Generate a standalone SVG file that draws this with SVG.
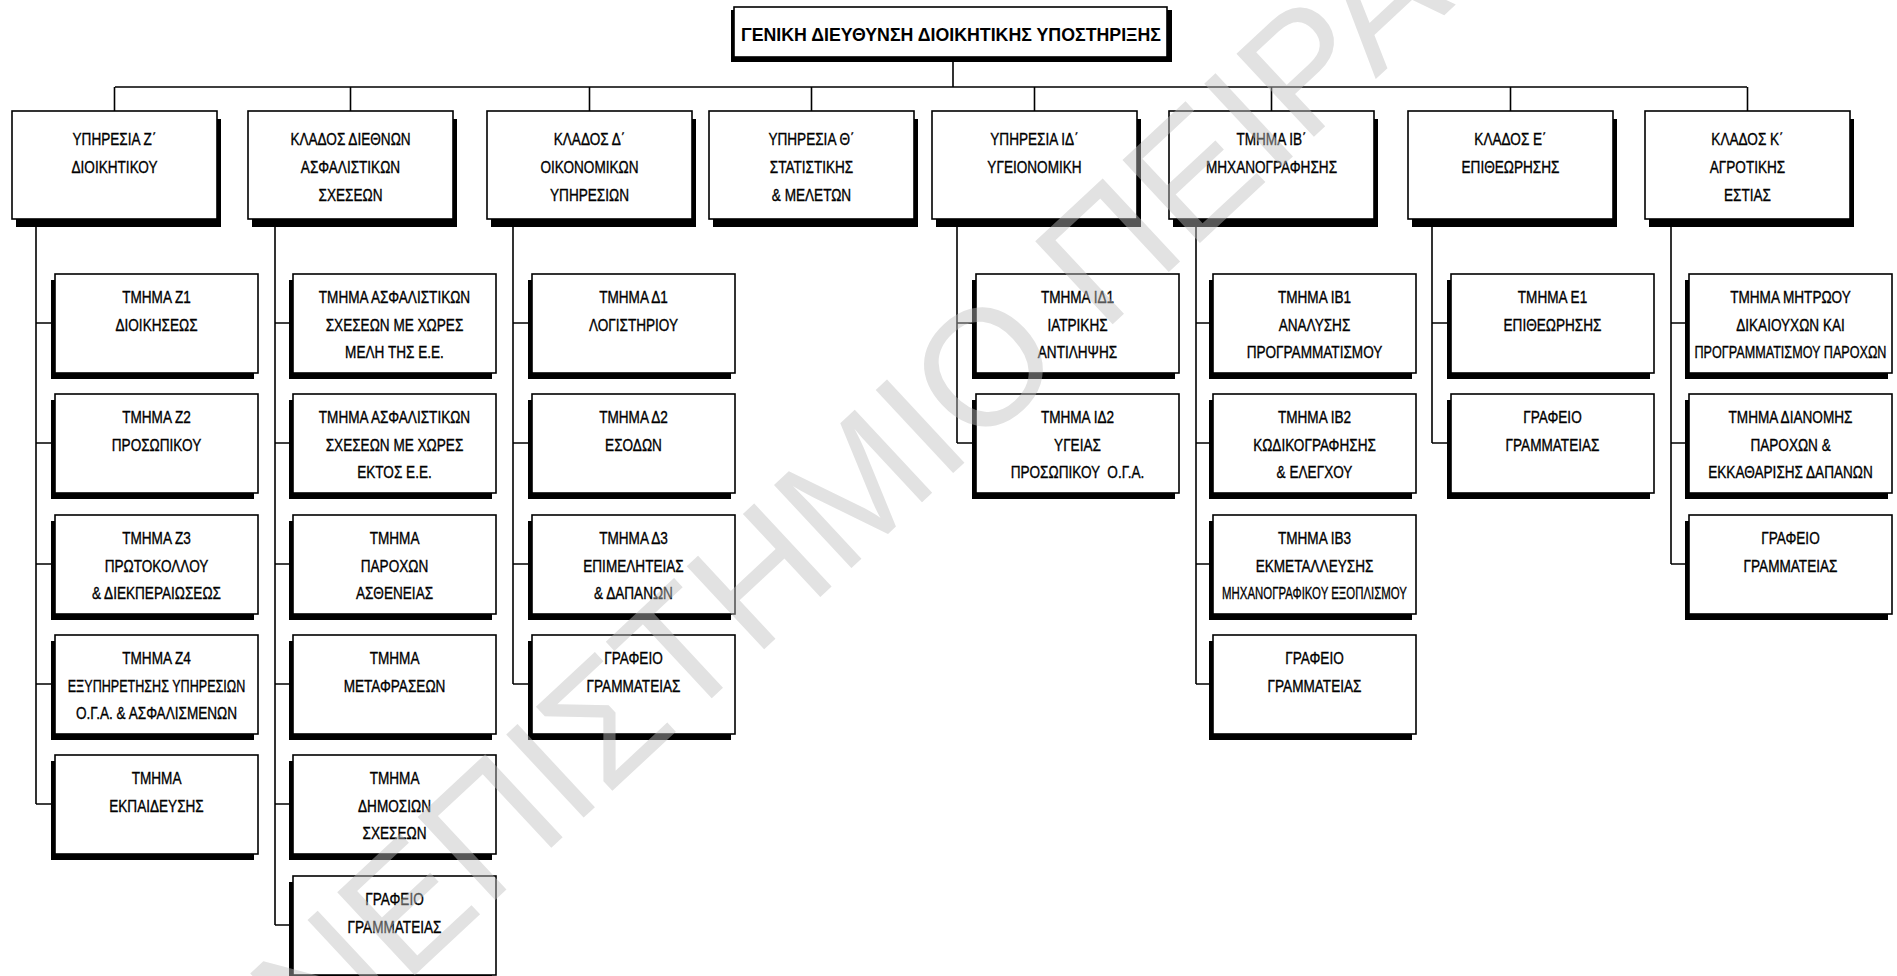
<svg xmlns="http://www.w3.org/2000/svg" width="1897" height="976" viewBox="0 0 1897 976">
<style>
.bx{fill:#fff;stroke:#000;stroke-width:1.6}
.sh{fill:#000}
.ln{stroke:#000;stroke-width:1.6;fill:none}
.t{font-family:"Liberation Sans",Arial,sans-serif;font-size:17px;fill:#000;stroke:#000;stroke-width:0.35;text-anchor:middle;transform-box:fill-box;transform-origin:center;transform:scaleX(0.8)}
.tt{font-family:"Liberation Sans",Arial,sans-serif;font-size:19px;font-weight:bold;fill:#000;text-anchor:middle}
.wm{font-family:"Liberation Sans",Arial,sans-serif;font-size:165px;fill:#bfbfbf;opacity:0.45}
</style>
<rect width="1897" height="976" fill="#fff"/>
<g id="connectors">
<path class="ln" d="M953 57V87M115 87H1747M114.5 87V111M350.5 87V111M589.5 87V111M811.5 87V111M1034.5 87V111M1271.5 87V111M1510.5 87V111M1747.5 87V111"/>
<path class="ln" d="M36 219V804M36 323H55M36 443H55M36 564H55M36 684H55M36 804H55"/>
<path class="ln" d="M275 219V925M275 323H293M275 443H293M275 564H293M275 684H293M275 804H293M275 925H293"/>
<path class="ln" d="M513 219V684M513 323H532M513 443H532M513 564H532M513 684H532"/>
<path class="ln" d="M957 219V443M957 323H976M957 443H976"/>
<path class="ln" d="M1196 219V684M1196 323H1213M1196 443H1213M1196 564H1213M1196 684H1213"/>
<path class="ln" d="M1432 219V443M1432 323H1451M1432 443H1451"/>
<path class="ln" d="M1671 219V564M1671 323H1689M1671 443H1689M1671 564H1689"/>
</g>
<g id="title">
<rect class="sh" x="731" y="10" width="441" height="52"/>
<rect class="bx" x="734" y="7" width="433" height="50"/>
<text class="tt" x="951" y="41" textLength="420" lengthAdjust="spacingAndGlyphs">ΓΕΝΙΚΗ ΔΙΕΥΘΥΝΣΗ ΔΙΟΙΚΗΤΙΚΗΣ ΥΠΟΣΤΗΡΙΞΗΣ</text>
</g>
<g id="n1"><rect class="sh" x="16" y="119" width="205" height="108"/><rect class="bx" x="12" y="111" width="205" height="108"/><text class="t" x="114.5" y="145">ΥΠΗΡΕΣΙΑ Ζ΄</text><text class="t" x="114.5" y="173">ΔΙΟΙΚΗΤΙΚΟΥ</text></g>
<g id="n2"><rect class="sh" x="252" y="119" width="205" height="108"/><rect class="bx" x="248" y="111" width="205" height="108"/><text class="t" x="350.5" y="145">ΚΛΑΔΟΣ ΔΙΕΘΝΩΝ</text><text class="t" x="350.5" y="173">ΑΣΦΑΛΙΣΤΙΚΩΝ</text><text class="t" x="350.5" y="201">ΣΧΕΣΕΩΝ</text></g>
<g id="n3"><rect class="sh" x="491" y="119" width="205" height="108"/><rect class="bx" x="487" y="111" width="205" height="108"/><text class="t" x="589.5" y="145">ΚΛΑΔΟΣ Δ΄</text><text class="t" x="589.5" y="173">ΟΙΚΟΝΟΜΙΚΩΝ</text><text class="t" x="589.5" y="201">ΥΠΗΡΕΣΙΩΝ</text></g>
<g id="n4"><rect class="sh" x="713" y="119" width="205" height="108"/><rect class="bx" x="709" y="111" width="205" height="108"/><text class="t" x="811.5" y="145">ΥΠΗΡΕΣΙΑ Θ΄</text><text class="t" x="811.5" y="173">ΣΤΑΤΙΣΤΙΚΗΣ</text><text class="t" x="811.5" y="201">&amp; ΜΕΛΕΤΩΝ</text></g>
<g id="n5"><rect class="sh" x="936" y="119" width="205" height="108"/><rect class="bx" x="932" y="111" width="205" height="108"/><text class="t" x="1034.5" y="145">ΥΠΗΡΕΣΙΑ ΙΔ΄</text><text class="t" x="1034.5" y="173">ΥΓΕΙΟΝΟΜΙΚΗ</text></g>
<g id="n6"><rect class="sh" x="1173" y="119" width="205" height="108"/><rect class="bx" x="1169" y="111" width="205" height="108"/><text class="t" x="1271.5" y="145">ΤΜΗΜΑ ΙΒ΄</text><text class="t" x="1271.5" y="173">ΜΗΧΑΝΟΓΡΑΦΗΣΗΣ</text></g>
<g id="n7"><rect class="sh" x="1412" y="119" width="205" height="108"/><rect class="bx" x="1408" y="111" width="205" height="108"/><text class="t" x="1510.5" y="145">ΚΛΑΔΟΣ Ε΄</text><text class="t" x="1510.5" y="173">ΕΠΙΘΕΩΡΗΣΗΣ</text></g>
<g id="n8"><rect class="sh" x="1649" y="119" width="205" height="108"/><rect class="bx" x="1645" y="111" width="205" height="108"/><text class="t" x="1747.5" y="145">ΚΛΑΔΟΣ Κ΄</text><text class="t" x="1747.5" y="173">ΑΓΡΟΤΙΚΗΣ</text><text class="t" x="1747.5" y="201">ΕΣΤΙΑΣ</text></g>

<g id="z1"><rect class="sh" x="51" y="280" width="203" height="99"/><rect class="bx" x="55" y="274" width="203" height="99"/><text class="t" x="156.5" y="303">ΤΜΗΜΑ Ζ1</text><text class="t" x="156.5" y="331">ΔΙΟΙΚΗΣΕΩΣ</text></g>
<g id="z2"><rect class="sh" x="51" y="400" width="203" height="99"/><rect class="bx" x="55" y="394" width="203" height="99"/><text class="t" x="156.5" y="423">ΤΜΗΜΑ Ζ2</text><text class="t" x="156.5" y="451">ΠΡΟΣΩΠΙΚΟΥ</text></g>
<g id="z3"><rect class="sh" x="51" y="521" width="203" height="99"/><rect class="bx" x="55" y="515" width="203" height="99"/><text class="t" x="156.5" y="544">ΤΜΗΜΑ Ζ3</text><text class="t" x="156.5" y="572">ΠΡΩΤΟΚΟΛΛΟΥ</text><text class="t" x="156.5" y="599">&amp; ΔΙΕΚΠΕΡΑΙΩΣΕΩΣ</text></g>
<g id="z4"><rect class="sh" x="51" y="641" width="203" height="99"/><rect class="bx" x="55" y="635" width="203" height="99"/><text class="t" x="156.5" y="664">ΤΜΗΜΑ Ζ4</text><text class="t" x="156.5" y="692" textLength="222" lengthAdjust="spacingAndGlyphs">ΕΞΥΠΗΡΕΤΗΣΗΣ ΥΠΗΡΕΣΙΩΝ</text><text class="t" x="156.5" y="719">Ο.Γ.Α. &amp; ΑΣΦΑΛΙΣΜΕΝΩΝ</text></g>
<g id="z5"><rect class="sh" x="51" y="761" width="203" height="99"/><rect class="bx" x="55" y="755" width="203" height="99"/><text class="t" x="156.5" y="784">ΤΜΗΜΑ</text><text class="t" x="156.5" y="812">ΕΚΠΑΙΔΕΥΣΗΣ</text></g>

<g id="k1"><rect class="sh" x="289" y="280" width="203" height="99"/><rect class="bx" x="293" y="274" width="203" height="99"/><text class="t" x="394.5" y="303">ΤΜΗΜΑ ΑΣΦΑΛΙΣΤΙΚΩΝ</text><text class="t" x="394.5" y="331">ΣΧΕΣΕΩΝ ΜΕ ΧΩΡΕΣ</text><text class="t" x="394.5" y="358">ΜΕΛΗ ΤΗΣ Ε.Ε.</text></g>
<g id="k2"><rect class="sh" x="289" y="400" width="203" height="99"/><rect class="bx" x="293" y="394" width="203" height="99"/><text class="t" x="394.5" y="423">ΤΜΗΜΑ ΑΣΦΑΛΙΣΤΙΚΩΝ</text><text class="t" x="394.5" y="451">ΣΧΕΣΕΩΝ ΜΕ ΧΩΡΕΣ</text><text class="t" x="394.5" y="478">ΕΚΤΟΣ Ε.Ε.</text></g>
<g id="k3"><rect class="sh" x="289" y="521" width="203" height="99"/><rect class="bx" x="293" y="515" width="203" height="99"/><text class="t" x="394.5" y="544">ΤΜΗΜΑ</text><text class="t" x="394.5" y="572">ΠΑΡΟΧΩΝ</text><text class="t" x="394.5" y="599">ΑΣΘΕΝΕΙΑΣ</text></g>
<g id="k4"><rect class="sh" x="289" y="641" width="203" height="99"/><rect class="bx" x="293" y="635" width="203" height="99"/><text class="t" x="394.5" y="664">ΤΜΗΜΑ</text><text class="t" x="394.5" y="692">ΜΕΤΑΦΡΑΣΕΩΝ</text></g>
<g id="k5"><rect class="sh" x="289" y="761" width="203" height="99"/><rect class="bx" x="293" y="755" width="203" height="99"/><text class="t" x="394.5" y="784">ΤΜΗΜΑ</text><text class="t" x="394.5" y="812">ΔΗΜΟΣΙΩΝ</text><text class="t" x="394.5" y="839">ΣΧΕΣΕΩΝ</text></g>
<g id="k6"><rect class="sh" x="289" y="882" width="203" height="99"/><rect class="bx" x="293" y="876" width="203" height="99"/><text class="t" x="394.5" y="905">ΓΡΑΦΕΙΟ</text><text class="t" x="394.5" y="933">ΓΡΑΜΜΑΤΕΙΑΣ</text></g>

<g id="d1"><rect class="sh" x="528" y="280" width="203" height="99"/><rect class="bx" x="532" y="274" width="203" height="99"/><text class="t" x="633.5" y="303">ΤΜΗΜΑ Δ1</text><text class="t" x="633.5" y="331">ΛΟΓΙΣΤΗΡΙΟΥ</text></g>
<g id="d2"><rect class="sh" x="528" y="400" width="203" height="99"/><rect class="bx" x="532" y="394" width="203" height="99"/><text class="t" x="633.5" y="423">ΤΜΗΜΑ Δ2</text><text class="t" x="633.5" y="451">ΕΣΟΔΩΝ</text></g>
<g id="d3"><rect class="sh" x="528" y="521" width="203" height="99"/><rect class="bx" x="532" y="515" width="203" height="99"/><text class="t" x="633.5" y="544">ΤΜΗΜΑ Δ3</text><text class="t" x="633.5" y="572">ΕΠΙΜΕΛΗΤΕΙΑΣ</text><text class="t" x="633.5" y="599">&amp; ΔΑΠΑΝΩΝ</text></g>
<g id="d4"><rect class="sh" x="528" y="641" width="203" height="99"/><rect class="bx" x="532" y="635" width="203" height="99"/><text class="t" x="633.5" y="664">ΓΡΑΦΕΙΟ</text><text class="t" x="633.5" y="692">ΓΡΑΜΜΑΤΕΙΑΣ</text></g>

<g id="i1"><rect class="sh" x="972" y="280" width="203" height="99"/><rect class="bx" x="976" y="274" width="203" height="99"/><text class="t" x="1077.5" y="303">ΤΜΗΜΑ ΙΔ1</text><text class="t" x="1077.5" y="331">ΙΑΤΡΙΚΗΣ</text><text class="t" x="1077.5" y="358">ΑΝΤΙΛΗΨΗΣ</text></g>
<g id="i2"><rect class="sh" x="972" y="400" width="203" height="99"/><rect class="bx" x="976" y="394" width="203" height="99"/><text class="t" x="1077.5" y="423">ΤΜΗΜΑ ΙΔ2</text><text class="t" x="1077.5" y="451">ΥΓΕΙΑΣ</text><text class="t" x="1077.5" y="478" xml:space="preserve">ΠΡΟΣΩΠΙΚΟΥ  Ο.Γ.Α.</text></g>

<g id="b1"><rect class="sh" x="1209" y="280" width="203" height="99"/><rect class="bx" x="1213" y="274" width="203" height="99"/><text class="t" x="1314.5" y="303">ΤΜΗΜΑ ΙΒ1</text><text class="t" x="1314.5" y="331">ΑΝΑΛΥΣΗΣ</text><text class="t" x="1314.5" y="358">ΠΡΟΓΡΑΜΜΑΤΙΣΜΟΥ</text></g>
<g id="b2"><rect class="sh" x="1209" y="400" width="203" height="99"/><rect class="bx" x="1213" y="394" width="203" height="99"/><text class="t" x="1314.5" y="423">ΤΜΗΜΑ ΙΒ2</text><text class="t" x="1314.5" y="451">ΚΩΔΙΚΟΓΡΑΦΗΣΗΣ</text><text class="t" x="1314.5" y="478">&amp; ΕΛΕΓΧΟΥ</text></g>
<g id="b3"><rect class="sh" x="1209" y="521" width="203" height="99"/><rect class="bx" x="1213" y="515" width="203" height="99"/><text class="t" x="1314.5" y="544">ΤΜΗΜΑ ΙΒ3</text><text class="t" x="1314.5" y="572">ΕΚΜΕΤΑΛΛΕΥΣΗΣ</text><text class="t" x="1314.5" y="599" textLength="231" lengthAdjust="spacingAndGlyphs">ΜΗΧΑΝΟΓΡΑΦΙΚΟΥ ΕΞΟΠΛΙΣΜΟΥ</text></g>
<g id="b4"><rect class="sh" x="1209" y="641" width="203" height="99"/><rect class="bx" x="1213" y="635" width="203" height="99"/><text class="t" x="1314.5" y="664">ΓΡΑΦΕΙΟ</text><text class="t" x="1314.5" y="692">ΓΡΑΜΜΑΤΕΙΑΣ</text></g>

<g id="e1"><rect class="sh" x="1447" y="280" width="203" height="99"/><rect class="bx" x="1451" y="274" width="203" height="99"/><text class="t" x="1552.5" y="303">ΤΜΗΜΑ Ε1</text><text class="t" x="1552.5" y="331">ΕΠΙΘΕΩΡΗΣΗΣ</text></g>
<g id="e2"><rect class="sh" x="1447" y="400" width="203" height="99"/><rect class="bx" x="1451" y="394" width="203" height="99"/><text class="t" x="1552.5" y="423">ΓΡΑΦΕΙΟ</text><text class="t" x="1552.5" y="451">ΓΡΑΜΜΑΤΕΙΑΣ</text></g>

<g id="a1"><rect class="sh" x="1685" y="280" width="203" height="99"/><rect class="bx" x="1689" y="274" width="203" height="99"/><text class="t" x="1790.5" y="303">ΤΜΗΜΑ ΜΗΤΡΩΟΥ</text><text class="t" x="1790.5" y="331">ΔΙΚΑΙΟΥΧΩΝ ΚΑΙ</text><text class="t" x="1790.5" y="358" textLength="240" lengthAdjust="spacingAndGlyphs">ΠΡΟΓΡΑΜΜΑΤΙΣΜΟΥ ΠΑΡΟΧΩΝ</text></g>
<g id="a2"><rect class="sh" x="1685" y="400" width="203" height="99"/><rect class="bx" x="1689" y="394" width="203" height="99"/><text class="t" x="1790.5" y="423">ΤΜΗΜΑ ΔΙΑΝΟΜΗΣ</text><text class="t" x="1790.5" y="451">ΠΑΡΟΧΩΝ &amp;</text><text class="t" x="1790.5" y="478">ΕΚΚΑΘΑΡΙΣΗΣ ΔΑΠΑΝΩΝ</text></g>
<g id="a3"><rect class="sh" x="1685" y="521" width="203" height="99"/><rect class="bx" x="1689" y="515" width="203" height="99"/><text class="t" x="1790.5" y="544">ΓΡΑΦΕΙΟ</text><text class="t" x="1790.5" y="572">ΓΡΑΜΜΑΤΕΙΑΣ</text></g>

<g id="watermark"><text class="wm" transform="translate(150 1222) rotate(-43)">ΠΑΝΕΠΙΣΤΗΜΙΟ ΠΕΙΡΑΙΩΣ</text></g>
</svg>
